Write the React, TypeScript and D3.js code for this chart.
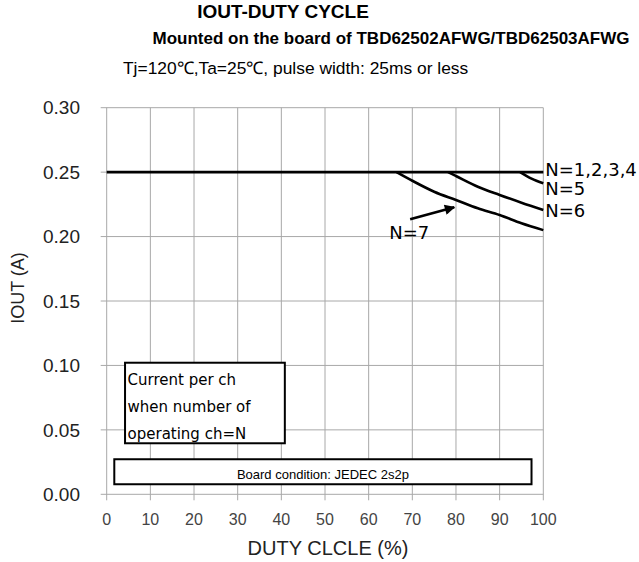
import React from "react";
import * as d3 from "d3";

// tick values
const xTicks = [0, 10, 20, 30, 40, 50, 60, 70, 80, 90, 100];
const yTicks = [0, 0.05, 0.1, 0.15, 0.2, 0.25, 0.3];

// curves (duty %, IOUT A)
const dutyN1to4 = [0, 100];
const ioutN1to4 = [0.25, 0.25];
const dutyN5 = [94.7, 97.3, 100];
const ioutN5 = [0.25, 0.2449, 0.2413];
const dutyN6 = [78.2, 80, 85, 90, 95, 100];
const ioutN6 = [0.25, 0.247, 0.2387, 0.2323, 0.2263, 0.2207];
const dutyN7 = [66.4, 70, 75, 80, 85, 90, 95, 100];
const ioutN7 = [0.25, 0.2433, 0.2348, 0.2284, 0.2219, 0.2167, 0.2103, 0.205];

const endLabels = ["N=1,2,3,4", "N=5", "N=6"];
const endLabelY = [0.2522, 0.2374, 0.2206];

const noteLines = ["Current per ch", "when number of", "operating ch=N"];

const width = 639;
const height = 562;

const App = () => {
  const x = d3.scaleLinear().domain([0, 100]).range([106.7, 543.3]);
  const y = d3.scaleLinear().domain([0, 0.3]).range([494.3, 107.7]);

  const line = d3
    .line<[number, number]>()
    .x((d) => x(d[0]))
    .y((d) => y(d[1]))
    .curve(d3.curveMonotoneX);

  const series = [
    d3.zip(dutyN1to4, ioutN1to4),
    d3.zip(dutyN5, ioutN5),
    d3.zip(dutyN6, ioutN6),
    d3.zip(dutyN7, ioutN7),
  ] as [number, number][][];

  const gridColor = "#a8a8a8";
  const font = "Arial, 'Liberation Sans', sans-serif";
  const jpFont = "'DejaVu Sans', sans-serif";

  // note box and board box in data units
  const note = { x0: 4.2, x1: 40.8, y0: 0.1021, y1: 0.0396 };
  const board = { x0: 1.74, x1: 97.3, y0: 0.0272, y1: 0.0078 };

  return (
    <svg
      width={width}
      height={height}
      style={{ position: "absolute", left: 0, top: 0, background: "#fff" }}
    >
      <text x={283} y={18} textAnchor="middle" fontFamily={font} fontWeight="bold" fontSize={19}>
        IOUT-DUTY  CYCLE
      </text>
      <text x={391} y={44} textAnchor="middle" fontFamily={font} fontWeight="bold" fontSize={17}>
        Mounted on the board of TBD62502AFWG/TBD62503AFWG
      </text>
      <text x={123} y={74} fontFamily={font} fontSize={17.4}>
        Tj=120℃,Ta=25℃, pulse width: 25ms or less
      </text>

      {/* grid */}
      {yTicks.map((t) => (
        <line key={"h" + t} x1={x(0) - 6} x2={x(100)} y1={y(t)} y2={y(t)} stroke={gridColor} strokeWidth={1} />
      ))}
      {xTicks.map((t) => (
        <line key={"v" + t} x1={x(t)} x2={x(t)} y1={y(0.3)} y2={y(0) + 6} stroke={gridColor} strokeWidth={1} />
      ))}

      {/* tick labels */}
      {yTicks.map((t) => (
        <text key={"yl" + t} x={80} y={y(t)} dy="0.35em" textAnchor="end" fontFamily={font} fontSize={19} fill="#222">
          {d3.format(".2f")(t)}
        </text>
      ))}
      {xTicks.map((t) => (
        <text key={"xl" + t} x={x(t)} y={525} textAnchor="middle" fontFamily={font} fontSize={16} fill="#444">
          {t}
        </text>
      ))}
      <text x={328} y={555} textAnchor="middle" fontFamily={font} fontSize={20} fill="#222">
        DUTY CLCLE (%)
      </text>
      <text
        transform={`translate(24,288) rotate(-90)`}
        textAnchor="middle"
        fontFamily={font}
        fontSize={18}
        fill="#222"
      >
        IOUT (A)
      </text>

      {/* boxes */}
      <rect
        x={x(note.x0)}
        y={y(note.y0)}
        width={x(note.x1) - x(note.x0)}
        height={y(note.y1) - y(note.y0)}
        fill="#fff"
        stroke="#000"
        strokeWidth={2}
      />
      {noteLines.map((s, i) => (
        <text key={s} x={x(note.x0) + 2.5} y={y(note.y0) + 22.5 + i * 26.7} fontFamily={jpFont} fontSize={15}>
          {s}
        </text>
      ))}
      <rect
        x={x(board.x0)}
        y={y(board.y0)}
        width={x(board.x1) - x(board.x0)}
        height={y(board.y1) - y(board.y0)}
        fill="#fff"
        stroke="#000"
        strokeWidth={2}
      />
      <text x={(x(board.x0) + x(board.x1)) / 2} y={y(board.y1) - 5} textAnchor="middle" fontFamily={font} fontSize={13}>
        Board condition: JEDEC 2s2p
      </text>

      {/* curves */}
      {series.map((s, i) => (
        <path key={i} d={line(s) || ""} fill="none" stroke="#000" strokeWidth={2.6} />
      ))}
      {endLabels.map((s, i) => (
        <text key={s} x={x(100) + 2} y={y(endLabelY[i])} dy="0.36em" fontFamily={jpFont} fontSize={18}>
          {s}
        </text>
      ))}

      {/* N=7 arrow */}
      <defs>
        <marker id="ah" viewBox="0 0 10 10" refX={9} refY={5} markerWidth={4.5} markerHeight={4} orient="auto" markerUnits="strokeWidth">
          <path d="M0,0 L10,5 L0,10 z" fill="#000" />
        </marker>
      </defs>
      <line x1={x(69.5)} y1={y(0.2134)} x2={x(79.6)} y2={y(0.2228)} stroke="#000" strokeWidth={2.6} markerEnd="url(#ah)" />
      <text x={x(64.7)} y={y(0.1979)} fontFamily={jpFont} fontSize={18}>
        N=7
      </text>
    </svg>
  );
};

export default App;
